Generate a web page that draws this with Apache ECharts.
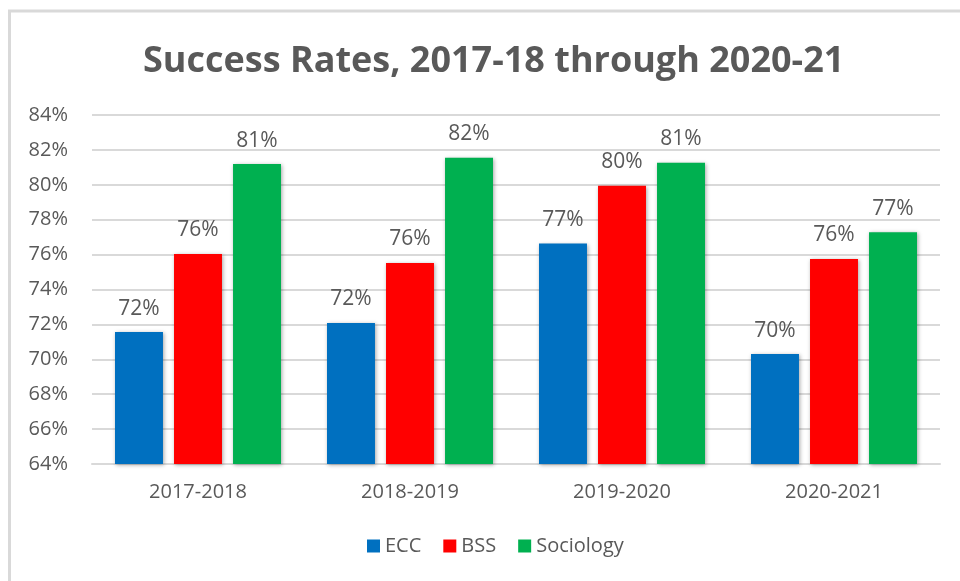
<!DOCTYPE html>
<html>
<head>
<meta charset="utf-8">
<style>
  html, body { margin: 0; padding: 0; background: #ffffff; }
  #chart { width: 960px; height: 581px; }
</style>
<script src="https://cdn.jsdelivr.net/npm/echarts@6/dist/echarts.min.js"></script>
</head>
<body>
<div id="chart"></div>
<script>
// Academic years on the category axis
const years = ['2017-2018', '2018-2019', '2019-2020', '2020-2021'];

// Success rates (percent) per group
const ecc = [71.56, 72.08, 76.63, 70.30];
const bss = [76.04, 75.52, 79.94, 75.75];
const sociology = [81.19, 81.55, 81.26, 77.28];

// Value axis range and step (percent)
const axisMin = 64;
const axisMax = 84;
const axisStep = 2;

const textColor = '#595959';
const fontFamily = '"Open Sans", "Noto Sans", sans-serif';

const chart = echarts.init(document.getElementById('chart'), null, { renderer: 'canvas' });

function barSeries(name, data, color) {
  return {
    name: name,
    type: 'bar',
    data: data,
    barGap: '23%',
    barCategoryGap: '21.7%',
    itemStyle: {
      color: color,
      shadowColor: 'rgba(0,0,0,0.35)',
      shadowBlur: 4,
      shadowOffsetX: 1,
      shadowOffsetY: 1
    },
    label: {
      show: true,
      position: 'top',
      distance: 13,
      color: textColor,
      fontFamily: fontFamily,
      fontSize: 21,
      formatter: p => Math.round(p.value) + '%'
    },
    emphasis: { disabled: true }
  };
}

chart.setOption({
  backgroundColor: '#ffffff',
  animation: false,
  title: {
    text: 'Success Rates, 2017-18 through 2020-21',
    left: 138,
    top: 39,
    textStyle: {
      color: textColor,
      fontFamily: fontFamily,
      fontWeight: 'bold',
      fontSize: 36
    }
  },
  graphic: [{
    type: 'rect',
    silent: true,
    shape: { x: 9.5, y: 11, width: 1200, height: 1200 },
    style: { fill: 'none', stroke: '#d9d9d9', lineWidth: 3 }
  }],
  legend: {
    bottom: 20,
    left: 362,
    itemWidth: 13,
    itemHeight: 13,
    itemGap: 22,
    icon: 'rect',
    textStyle: { color: textColor, fontFamily: fontFamily, fontSize: 20 },
    data: ['ECC', 'BSS', 'Sociology']
  },
  grid: {
    left: 92,
    right: 20,
    top: 115,
    bottom: 117,
    containLabel: false
  },
  xAxis: {
    type: 'category',
    data: years,
    axisLine: { show: true, lineStyle: { color: '#d9d9d9', width: 2 } },
    axisTick: { show: false },
    axisLabel: {
      color: textColor,
      fontFamily: fontFamily,
      fontSize: 20,
      margin: 18
    }
  },
  yAxis: {
    type: 'value',
    min: axisMin,
    max: axisMax,
    interval: axisStep,
    axisLine: { show: false },
    axisTick: { show: false },
    splitLine: { lineStyle: { color: '#d9d9d9', width: 2 } },
    axisLabel: {
      color: textColor,
      fontFamily: fontFamily,
      fontSize: 20,
      margin: 24,
      formatter: v => v + '%'
    }
  },
  series: [
    barSeries('ECC', ecc, '#0070C0'),
    barSeries('BSS', bss, '#FF0000'),
    barSeries('Sociology', sociology, '#00B050')
  ]
});
</script>
</body>
</html>
